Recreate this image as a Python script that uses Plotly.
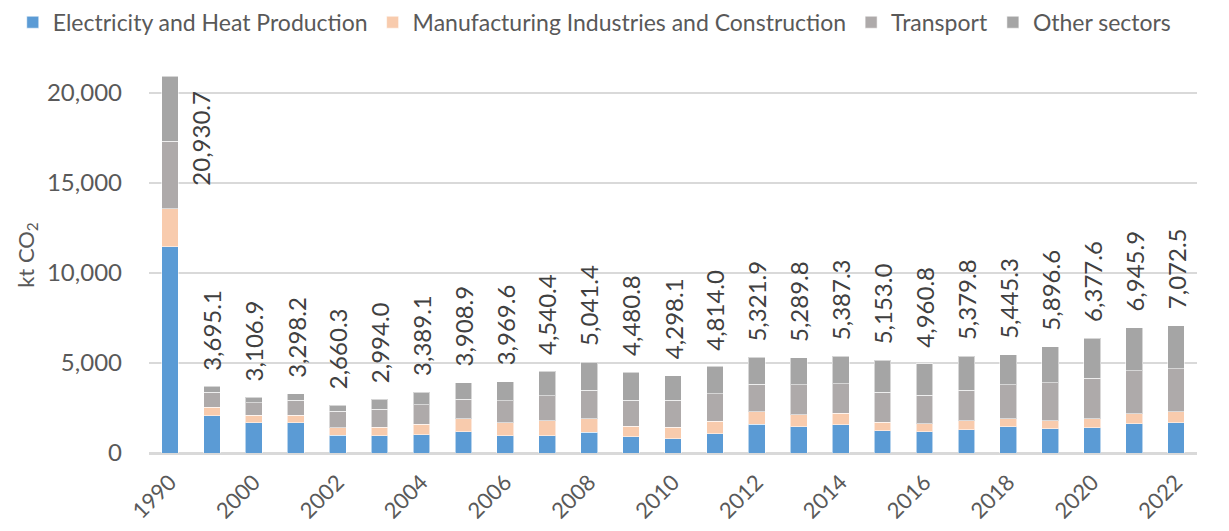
import plotly.graph_objects as go

years = ["1990", "1999", "2000", "2001", "2002", "2003", "2004", "2005", "2006", "2007",
         "2008", "2009", "2010", "2011", "2012", "2013", "2014", "2015", "2016", "2017",
         "2018", "2019", "2020", "2021", "2022"]
electricity = [11460, 2070, 1670, 1680, 980, 960, 1020, 1170, 960, 960,
               1150, 910, 800, 1070, 1590, 1460, 1570, 1240, 1190, 1280,
               1460, 1350, 1410, 1630, 1690]
manufacturing = [2100, 480, 440, 410, 430, 470, 590, 720, 710, 820,
                 740, 590, 630, 690, 690, 670, 630, 460, 440, 500,
                 450, 450, 480, 560, 610]
transport = [3770, 820, 680, 850, 920, 1010, 1060, 1110, 1220, 1390,
             1610, 1430, 1500, 1520, 1530, 1650, 1650, 1670, 1570, 1700,
             1870, 2090, 2260, 2370, 2370]
other = [3600.7, 325.1, 316.9, 358.2, 330.3, 554.0, 719.1, 908.9, 1079.6, 1370.4,
         1541.4, 1550.8, 1368.1, 1534.0, 1511.9, 1509.8, 1537.3, 1783.0, 1760.8, 1899.8,
         1665.3, 2006.6, 2227.6, 2385.9, 2402.5]
totals = [20930.7, 3695.1, 3106.9, 3298.2, 2660.3, 2994.0, 3389.1, 3908.9, 3969.6, 4540.4,
          5041.4, 4480.8, 4298.1, 4814.0, 5321.9, 5289.8, 5387.3, 5153.0, 4960.8, 5379.8,
          5445.3, 5896.6, 6377.6, 6945.9, 7072.5]
tick_labels = years[0:1] + years[2::2]

series = [
    ("Electricity and Heat Production", electricity, "#5B9BD5"),
    ("Manufacturing Industries and Construction", manufacturing, "#F8CBAD"),
    ("Transport", transport, "#AEAAAA"),
    ("Other sectors", other, "#A5A5A5"),
]

FONT = "Lato"
fig = go.Figure()
for name, vals, col in series:
    fig.add_trace(go.Bar(
        x=years, y=vals, name=name,
        marker=dict(color=col, line=dict(color="rgba(255,255,255,0.55)", width=1)),
        hoverinfo="x+y+name",
    ))

for i, t in enumerate(totals):
    if i == 0:
        fig.add_annotation(x=i, y=t, text=f"{t:,.1f}", textangle=-90, showarrow=False,
                           xanchor="center", yanchor="top", xshift=31, yshift=-12,
                           font=dict(family=FONT, size=24, color="#404040"))
    else:
        fig.add_annotation(x=i, y=t, text=f"{t:,.1f}", textangle=-90, showarrow=False,
                           xanchor="center", yanchor="bottom", yshift=14,
                           font=dict(family=FONT, size=24, color="#404040"))

fig.update_layout(
    barmode="stack",
    bargap=0.6,
    width=1221, height=523,
    margin=dict(l=141, r=32, t=49, b=78, autoexpand=False),
    paper_bgcolor="white", plot_bgcolor="white",
    font=dict(family=FONT, size=22, color="#595959"),
    legend=dict(orientation="h", traceorder="normal", xref="paper", x=-0.13, xanchor="left",
                yref="paper", y=1.142, yanchor="top",
                font=dict(family=FONT, size=23, color="#595959"),
                itemwidth=30, tracegroupgap=0),
    xaxis=dict(type="category", categoryorder="array", categoryarray=years,
               tickmode="array", tickvals=tick_labels, ticktext=tick_labels, automargin=False,
               tickangle=-45, showgrid=False, showline=True, linecolor="#D9D9D9", linewidth=1.5,
               ticks="", ticklabelstandoff=6,
               tickfont=dict(family=FONT, size=22, color="#595959")),
    yaxis=dict(range=[0, 22000], tickvals=[0, 5000, 10000, 15000, 20000], tickformat=",d",
               showgrid=True, gridcolor="#D9D9D9", gridwidth=1.5, zeroline=True, automargin=False,
               zerolinecolor="#D9D9D9", zerolinewidth=1.5, ticks="", ticklabelstandoff=26,
               tickfont=dict(family=FONT, size=24, color="#595959"),
               title=dict(text="kt CO<sub>2</sub>", standoff=6,
                          font=dict(family=FONT, size=22, color="#595959"))),
    showlegend=True,
)

fig.write_html("out.html")
